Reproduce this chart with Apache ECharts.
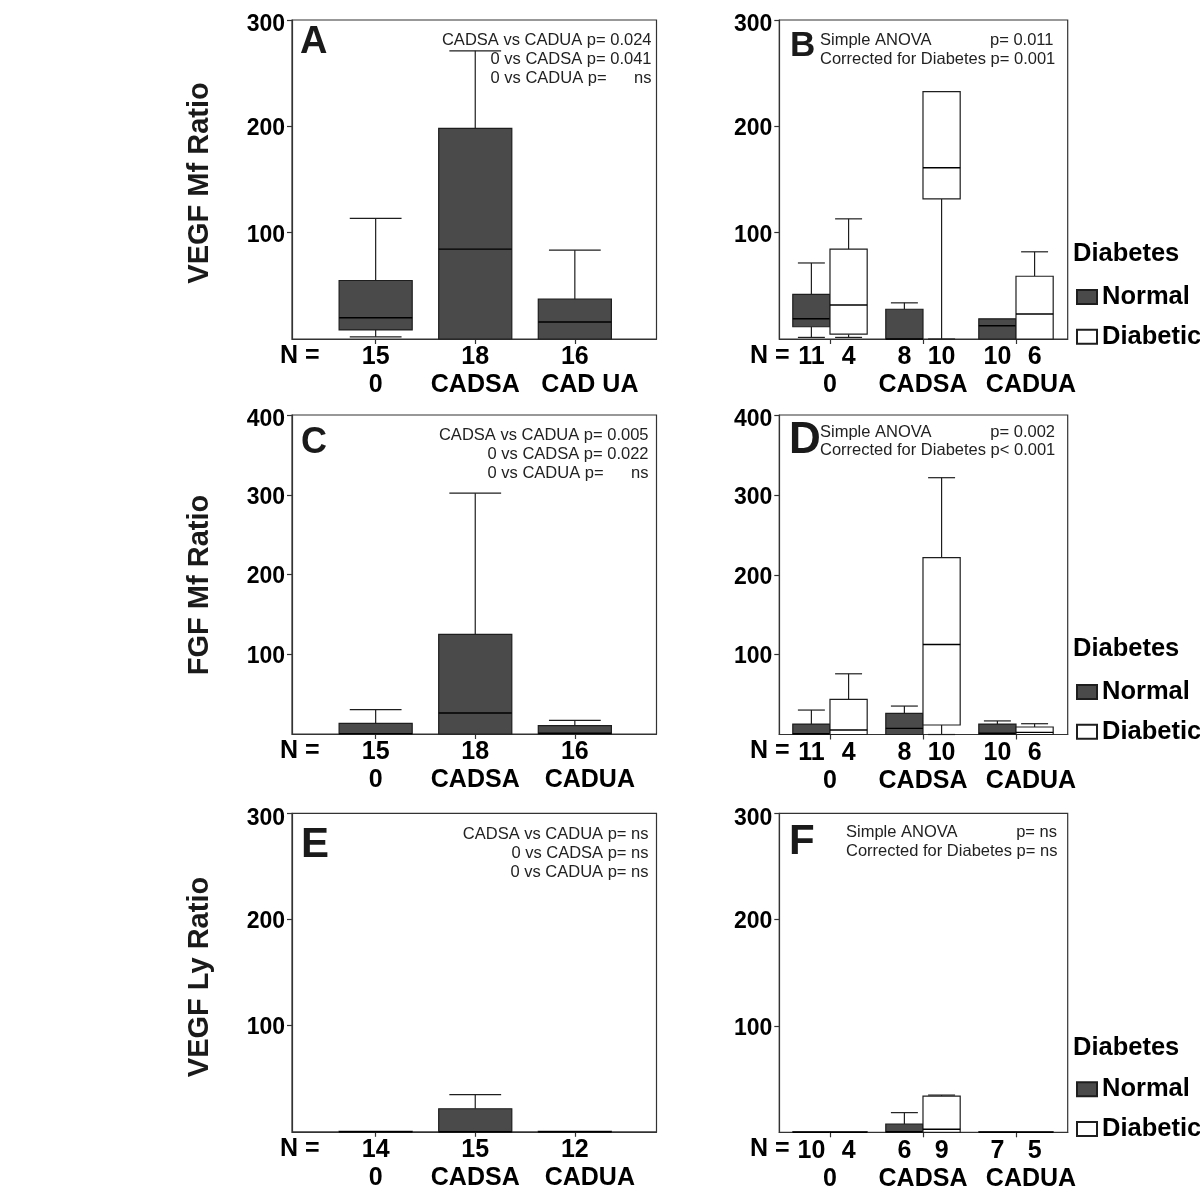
<!DOCTYPE html>
<html><head><meta charset="utf-8">
<script src="https://cdn.jsdelivr.net/npm/echarts@6/dist/echarts.min.js"></script>
<style>html,body{margin:0;padding:0;background:#fff}#c{width:1200px;height:1200px}</style>
</head><body><div id="c"></div>
<script>
// ---------------- DATA ----------------
// box stats: [low whisker, Q1, median, Q3, high whisker]
const groupsA = ['0', 'CADSA', 'CAD UA'];
const groupsC = ['0', 'CADSA', 'CADUA'];
const groupsE = ['0', 'CADSA', 'CADUA'];
const groupsB = ['0', 'CADSA', 'CADUA'];
const groupsD = ['0', 'CADSA', 'CADUA'];
const groupsF = ['0', 'CADSA', 'CADUA'];

const nA = [15, 18, 16];
const boxA = [[2, 8.5, 20, 55, 113.5], [0, 0, 84.5, 198, 271], [0, 0, 16, 37.5, 83.5]];

const nB_normal = [11, 8, 10];
const nB_diabetic = [4, 10, 6];
const boxB_normal = [[1.5, 11.5, 19, 42, 71.5], [0, 0, 0, 28, 34], [0, 0, 12.5, 19, 19]];
const boxB_diabetic = [[1.5, 4.5, 32, 84.5, 113], [0, 131.7, 161, 232.6, 232.6], [0, 0, 23.5, 59, 82]];

const nC = [15, 18, 16];
const boxC = [[0, 0, 0.5, 13.3, 30.5], [0, 0, 26.3, 125, 302], [0, 0, 1, 10.4, 17]];

const nD_normal = [11, 8, 10];
const nD_diabetic = [4, 10, 6];
const boxD_normal = [[0, 0, 1, 13, 30.6], [0, 0, 7.7, 26.5, 35.6], [0, 0, 1.5, 13, 17]];
const boxD_diabetic = [[0, 0, 5.6, 44, 76], [0, 11.9, 112.7, 221.5, 321.5], [0, 0, 2.7, 9.4, 13.5]];

const nE = [14, 15, 12];
const boxE = [[0, 0, 0, 0.4, 0.4], [0, 0, 0, 21.7, 35], [0, 0, 0, 0.4, 0.4]];

const nF_normal = [10, 6, 7];
const nF_diabetic = [4, 9, 5];
const boxF_normal = [[0, 0, 0, 0.4, 0.4], [0, 0, 0.5, 7.8, 18.5], [0, 0, 0, 0.4, 0.4]];
const boxF_diabetic = [[0, 0, 0, 0.4, 0.4], [0, 0, 2.8, 34, 35], [0, 0, 0, 0.4, 0.4]];

const yMaxA = 300, yMaxB = 300, yMaxC = 400, yMaxD = 400, yMaxE = 300, yMaxF = 300;
const yTitles = ['VEGF Mf Ratio', 'FGF Mf Ratio', 'VEGF Ly Ratio'];
const letters = ['A', 'B', 'C', 'D', 'E', 'F'];
const statsA = ['CADSA vs CADUA p= 0.024', '0 vs CADSA p= 0.041', '0 vs CADUA p=      ns'];
const statsC = ['CADSA vs CADUA p= 0.005', '0 vs CADSA p= 0.022', '0 vs CADUA p=      ns'];
const statsE = ['CADSA vs CADUA p= ns', '0 vs CADSA p= ns', '0 vs CADUA p= ns'];
const statsB = [['Simple ANOVA', 'p= 0.011'], ['Corrected for Diabetes p= 0.001', '']];
const statsD = [['Simple ANOVA', 'p= 0.002'], ['Corrected for Diabetes p< 0.001', '']];
const statsF = [['Simple ANOVA', 'p= ns'], ['Corrected for Diabetes p= ns', '']];
const legendTitle = 'Diabetes';
const legendNames = ['Normal', 'Diabetic'];

// ---------------- STYLE / LAYOUT ----------------
const FONT = "'Liberation Sans', Arial, Helvetica, sans-serif";
const NARROW = "'Liberation Sans Narrow', 'Liberation Sans', Arial, sans-serif";
const DARK = '#4a4a4a';
const LINE = '#1e1e1e';

const panels = [
  { grid: { left: 292, top: 20, width: 364.5, height: 319 }, x: [-0.84, 2.82], yMax: yMaxA, groups: groupsA,
    series: [{ name: 'All', box: boxA, n: nA, off: 0, fill: DARK }], boxW: 0.734, capW: 0.52 },
  { grid: { left: 779.3, top: 20, width: 288.4, height: 319 }, x: [-0.545, 2.556], yMax: yMaxB, groups: groupsB,
    series: [{ name: 'Normal', box: boxB_normal, n: nB_normal, off: -0.2, fill: DARK },
             { name: 'Diabetic', box: boxB_diabetic, n: nB_diabetic, off: 0.2, fill: '#fff' }], boxW: 0.4, capW: 0.29 },
  { grid: { left: 292, top: 415, width: 364.5, height: 319 }, x: [-0.84, 2.82], yMax: yMaxC, groups: groupsC,
    series: [{ name: 'All', box: boxC, n: nC, off: 0, fill: DARK }], boxW: 0.734, capW: 0.52 },
  { grid: { left: 779.3, top: 415, width: 288.4, height: 319.5 }, x: [-0.545, 2.556], yMax: yMaxD, groups: groupsD,
    series: [{ name: 'Normal', box: boxD_normal, n: nD_normal, off: -0.2, fill: DARK },
             { name: 'Diabetic', box: boxD_diabetic, n: nD_diabetic, off: 0.2, fill: '#fff' }], boxW: 0.4, capW: 0.29 },
  { grid: { left: 292, top: 813.3, width: 364.5, height: 318.5 }, x: [-0.84, 2.82], yMax: yMaxE, groups: groupsE,
    series: [{ name: 'All', box: boxE, n: nE, off: 0, fill: DARK }], boxW: 0.734, capW: 0.52 },
  { grid: { left: 779.3, top: 813.3, width: 288.4, height: 319 }, x: [-0.545, 2.556], yMax: yMaxF, groups: groupsF,
    series: [{ name: 'Normal', box: boxF_normal, n: nF_normal, off: -0.2, fill: DARK },
             { name: 'Diabetic', box: boxF_diabetic, n: nF_diabetic, off: 0.2, fill: '#fff' }], boxW: 0.4, capW: 0.29 }
];

function makeRender(boxW, capW, fill) {
  return function (params, api) {
    const x = api.value(0);
    const c = k => api.coord([x, api.value(k)]);
    const pl = c(1), p1 = c(2), pm = c(3), p3 = c(4), ph = c(5);
    const bw = api.size([boxW, 0])[0];
    const cw = api.size([capW, 0])[0];
    const cx = p1[0];
    const ls = { stroke: LINE, lineWidth: 1.2 };
    const ch = [];
    if (ph[1] < p3[1] - 0.5) {
      ch.push({ type: 'line', shape: { x1: cx, y1: p3[1], x2: cx, y2: ph[1] }, style: ls });
      ch.push({ type: 'line', shape: { x1: cx - cw / 2, y1: ph[1], x2: cx + cw / 2, y2: ph[1] }, style: ls });
    }
    if (pl[1] > p1[1] + 0.5) {
      ch.push({ type: 'line', shape: { x1: cx, y1: p1[1], x2: cx, y2: pl[1] }, style: ls });
      ch.push({ type: 'line', shape: { x1: cx - cw / 2, y1: pl[1], x2: cx + cw / 2, y2: pl[1] }, style: ls });
    }
    ch.push({ type: 'rect', shape: { x: cx - bw / 2, y: p3[1], width: bw, height: Math.max(p1[1] - p3[1], 0.6) },
      style: { fill: fill, stroke: LINE, lineWidth: 1.2 } });
    ch.push({ type: 'line', shape: { x1: cx - bw / 2, y1: pm[1], x2: cx + bw / 2, y2: pm[1] },
      style: { stroke: '#000', lineWidth: 1.4 } });
    return { type: 'group', children: ch };
  };
}

const grids = [], xAxes = [], yAxes = [], series = [], graphics = [], legends = [];
const lblFont = { fontFamily: FONT, fontWeight: 'bold', fontSize: 25, color: '#000' };
const yLblFont = { fontFamily: FONT, fontWeight: 'bold', fontSize: 23, color: '#000' };

panels.forEach((p, i) => {
  grids.push(Object.assign({ show: true, borderColor: '#333', borderWidth: 1.2, containLabel: false }, p.grid));
  const pos = [], lbl = [];
  p.series.forEach(s => s.n.forEach((v, g) => { pos.push(g + s.off); lbl.push(String(v)); }));
  const look = v => { for (let k = 0; k < pos.length; k++) if (Math.abs(pos[k] - v) < 1e-6) return lbl[k]; return ''; };
  xAxes.push({
    type: 'value', gridIndex: i, min: p.x[0], max: p.x[1], position: 'bottom',
    axisLine: { show: true, onZero: false, lineStyle: { color: '#333', width: 1.2 } },
    axisTick: { show: true, customValues: [0, 1, 2], length: 5, inside: false, lineStyle: { color: '#333', width: 1.2 } },
    axisLabel: Object.assign({ customValues: pos, formatter: look, margin: 6 }, lblFont),
    splitLine: { show: false }
  });
  xAxes.push({
    type: 'value', gridIndex: i, min: p.x[0], max: p.x[1], position: 'bottom', offset: 28,
    axisLine: { show: false, onZero: false }, axisTick: { show: false },
    axisLabel: Object.assign({
      customValues: [0, 1, 2], margin: 6,
      formatter: v => { const t = p.groups[Math.round(v)]; return Math.round(v) === 2 ? '{s|' + t + '}' : t; },
      rich: { s: Object.assign({ padding: [0, 0, 0, 30] }, lblFont) }
    }, lblFont),
    splitLine: { show: false }
  });
  yAxes.push({
    type: 'value', gridIndex: i, min: 0, max: p.yMax, interval: 100,
    axisLine: { show: true, onZero: false, lineStyle: { color: '#333', width: 1.2 } },
    axisTick: { show: true, length: 5, lineStyle: { color: '#333', width: 1.2 } },
    axisLabel: Object.assign({
      showMinLabel: false, margin: 7,
      formatter: v => (v === 0 ? '' : (v === p.yMax ? '{t|' + v + '}' : '{n|' + v + '}')),
      rich: { n: Object.assign({ padding: [5, 0, 0, 0] }, yLblFont), t: Object.assign({ padding: [10, 0, 0, 0] }, yLblFont) }
    }, yLblFont),
    splitLine: { show: false }
  });
  p.series.forEach(s => {
    series.push({
      type: 'custom', name: s.name, xAxisIndex: 2 * i, yAxisIndex: i, clip: false, silent: true,
      itemStyle: { color: s.fill, borderColor: LINE, borderWidth: 1 },
      encode: { x: 0, y: [1, 2, 3, 4, 5] },
      renderItem: makeRender(p.boxW, p.capW, s.fill),
      data: s.box.map((b, g) => [g + s.off].concat(b))
    });
  });
  // "N =" label
  const bottom = p.grid.top + p.grid.height;
  graphics.push({ type: 'text', x: (i % 2 === 0) ? 280 : 750, y: bottom + 17,
    style: { text: 'N =', font: 'bold 25px ' + FONT, fill: '#000', textAlign: 'left', textVerticalAlign: 'middle', align: 'left', verticalAlign: 'middle' } });
});

// axis titles
[183, 585, 977].forEach((y, k) => {
  graphics.push({ type: 'text', x: 200, y: y, rotation: Math.PI / 2,
    style: { text: yTitles[k], font: 'bold 29px ' + FONT, fill: '#1a1a1a', textAlign: 'center', textVerticalAlign: 'middle', align: 'center', verticalAlign: 'middle' } });
});

// panel letters
const letterPos = [[300, 43, 38, FONT], [790, 46, 35, FONT], [301, 443, 36, FONT], [789, 441, 44, FONT], [301, 845, 42, NARROW], [789, 842, 42, NARROW]];
letterPos.forEach((lp, k) => {
  graphics.push({ type: 'text', x: lp[0], y: lp[1],
    style: { text: letters[k], font: 'bold ' + lp[2] + 'px ' + lp[3], fill: '#1a1a1a', textAlign: 'left', textVerticalAlign: 'middle', align: 'left', verticalAlign: 'middle' } });
});

// stats annotations
const annFont = '16.5px ' + FONT;
function rightLines(lines, xr, ys) {
  lines.forEach((t, k) => graphics.push({ type: 'text', x: xr, y: ys[k],
    style: { text: t, font: annFont, fill: '#222', textAlign: 'right', textVerticalAlign: 'middle', align: 'right', verticalAlign: 'middle' } }));
}
rightLines(statsA, 651.5, [40, 59.3, 78.3]);
rightLines(statsC, 648.5, [435, 454.3, 473.3]);
rightLines(statsE, 648.5, [834.3, 853.3, 872.3]);
function twoCol(lines, xl, xr, ys) {
  lines.forEach((pair, k) => {
    graphics.push({ type: 'text', x: xl, y: ys[k],
      style: { text: pair[0], font: annFont, fill: '#222', textAlign: 'left', textVerticalAlign: 'middle', align: 'left', verticalAlign: 'middle' } });
    if (pair[1]) graphics.push({ type: 'text', x: xr, y: ys[k],
      style: { text: pair[1], font: annFont, fill: '#222', textAlign: 'right', textVerticalAlign: 'middle', align: 'right', verticalAlign: 'middle' } });
  });
}
twoCol(statsB, 820, 1053.5, [40.7, 59.3]);
twoCol(statsD, 820, 1055, [432.3, 450.7]);
twoCol(statsF, 846, 1057, [832.3, 851.7]);

// legends
[[254, 284], [649.3, 679], [1048.3, 1076.3]].forEach(([ty, lt]) => {
  graphics.push({ type: 'text', x: 1073, y: ty,
    style: { text: legendTitle, font: 'bold 25.5px ' + FONT, fill: '#000', textAlign: 'left', textVerticalAlign: 'middle', align: 'left', verticalAlign: 'middle' } });
  legends.push({
    data: legendNames, orient: 'vertical', left: 1076, top: lt, itemWidth: 20, itemHeight: 14, itemGap: 13.7,
    padding: 0, selectedMode: false, icon: 'rect',
    textStyle: { fontFamily: FONT, fontWeight: 'bold', fontSize: 25.5, color: '#000', lineHeight: 24 }
  });
});

const chart = echarts.init(document.getElementById('c'), null, { renderer: 'canvas' });
chart.setOption({
  backgroundColor: '#fff',
  animation: false,
  grid: grids, xAxis: xAxes, yAxis: yAxes, series: series, legend: legends, graphic: graphics
});
</script></body></html>
